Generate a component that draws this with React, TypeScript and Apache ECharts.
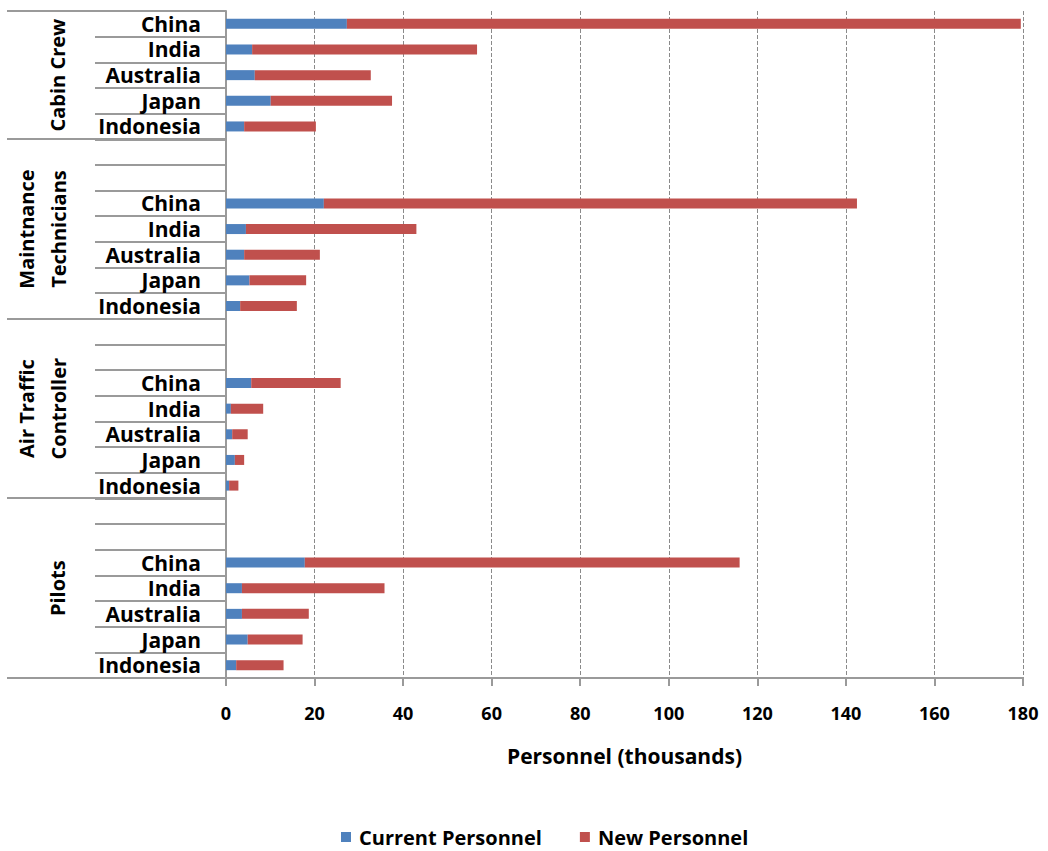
import React, { useEffect, useRef } from "react";
import * as echarts from "echarts";

// ---- data ----
const groupNames = ["Cabin Crew", "Maintnance\nTechnicians", "Air Traffic\nController", "Pilots"];
const countries = ["China", "India", "Australia", "Japan", "Indonesia"];
const seriesNames = ["Current Personnel", "New Personnel"];
const axisTitle = "Personnel (thousands)";
const xMin = 0;
const xMax = 180;
const xInterval = 20;
const blankRowsBetweenGroups = 2;

const cabinCurrent = [27.3, 5.9, 6.5, 10.1, 4.1];
const cabinNew = [152.2, 50.8, 26.2, 27.4, 16.2];
const maintCurrent = [22.1, 4.5, 4.1, 5.3, 3.2];
const maintNew = [120.4, 38.5, 17.1, 12.8, 12.8];
const atcCurrent = [5.7, 1.1, 1.4, 2.0, 0.7];
const atcNew = [20.2, 7.3, 3.5, 2.1, 2.1];
const pilotsCurrent = [17.8, 3.6, 3.6, 4.9, 2.3];
const pilotsNew = [98.2, 32.2, 15.1, 12.4, 10.7];

const currentByGroup = [cabinCurrent, maintCurrent, atcCurrent, pilotsCurrent];
const newByGroup = [cabinNew, maintNew, atcNew, pilotsNew];

const FONT = "'Open Sans', 'DejaVu Sans', sans-serif";
const BLUE = "#4F81BD";
const RED = "#C0504D";
const LINE = "#9a9a9a";

function buildRows() {
  const categories: string[] = [];
  const current: (number | null)[] = [];
  const added: (number | null)[] = [];
  const groupStarts: number[] = [];
  groupNames.forEach((_g, gi) => {
    groupStarts.push(categories.length);
    if (gi > 0) {
      for (let k = 0; k < blankRowsBetweenGroups; k++) {
        categories.push("");
        current.push(null);
        added.push(null);
      }
    }
    countries.forEach((c, ci) => {
      categories.push(c);
      current.push(currentByGroup[gi][ci]);
      added.push(newByGroup[gi][ci]);
    });
  });
  groupStarts.push(categories.length);
  return { categories, current, added, groupStarts };
}

export default function App() {
  const ref = useRef<HTMLDivElement>(null);
  useEffect(() => {
    if (!ref.current) return;
    const chart = echarts.init(ref.current, undefined, { renderer: "svg" });
    const { categories, current, added, groupStarts } = buildRows();
    chart.setOption({
      animation: false,
      textStyle: { fontFamily: FONT },
      grid: { left: 226, right: 25, top: 11, bottom: 173, containLabel: false },
      legend: {
        left: 336,
        top: 822,
        itemWidth: 10,
        itemHeight: 10,
        itemGap: 38,
        icon: "rect",
        textStyle: { fontFamily: FONT, fontSize: 20, fontWeight: "bold", color: "#000", padding: [0, 0, 0, 3], lineHeight: 20 },
        data: seriesNames,
      },
      xAxis: {
        type: "value",
        min: xMin,
        max: xMax,
        interval: xInterval,
        name: axisTitle,
        nameLocation: "middle",
        nameGap: 67,
        nameTextStyle: { fontFamily: FONT, fontSize: 21, fontWeight: "bold", color: "#000" },
        axisLine: { show: true, lineStyle: { color: LINE, width: 2 } },
        axisTick: { show: true, length: 8, lineStyle: { color: LINE, width: 2 } },
        axisLabel: { fontFamily: FONT, fontSize: 18, fontWeight: "bold", color: "#000", margin: 26 },
        splitLine: { show: true, lineStyle: { color: "#8a8a8a", type: [4, 2], width: 1 } },
      },
      yAxis: {
        type: "category",
        inverse: true,
        data: categories,
        axisLine: { show: true, lineStyle: { color: LINE, width: 2 } },
        axisTick: { show: true, interval: 0, length: 131, lineStyle: { color: LINE, width: 2 } },
        axisLabel: { interval: 0, fontFamily: FONT, fontSize: 21, fontWeight: "bold", color: "#000", margin: 25 },
        splitLine: { show: false },
      },
      series: [
        { name: seriesNames[0], type: "bar", stack: "total", barWidth: 10, itemStyle: { color: BLUE }, data: current },
        { name: seriesNames[1], type: "bar", stack: "total", barWidth: 10, itemStyle: { color: RED }, data: added },
      ],
    });

    const c0 = chart.convertToPixel({ yAxisIndex: 0 }, 0) as number;
    const c1 = chart.convertToPixel({ yAxisIndex: 0 }, 1) as number;
    const band = c1 - c0;
    const boundary = (i: number) => c0 + (i - 0.5) * band;
    const xAxisPx = chart.convertToPixel({ xAxisIndex: 0 }, xMin) as number;

    const elements: any[] = [];
    groupStarts.forEach((s) => {
      const y = Math.round(boundary(s));
      elements.push({
        type: "line",
        shape: { x1: 7, y1: y, x2: xAxisPx, y2: y },
        style: { stroke: LINE, lineWidth: 2 },
        z: 10,
      });
    });
    groupNames.forEach((g, gi) => {
      const yMid = (boundary(groupStarts[gi]) + boundary(groupStarts[gi + 1])) / 2;
      const twoLines = g.indexOf("\n") >= 0;
      elements.push({
        type: "text",
        x: twoLines ? 42 : 57,
        y: yMid,
        rotation: Math.PI / 2,
        style: {
          text: g,
          fill: "#000",
          fontFamily: FONT,
          fontSize: 20,
          fontWeight: "bold",
          textAlign: "center",
          textVerticalAlign: "middle",
          lineHeight: 32,
        },
        z: 10,
      });
    });
    chart.setOption({ graphic: { elements } });

    return () => chart.dispose();
  }, []);
  return (
    <div
      ref={ref}
      style={{ position: "fixed", left: 0, top: 0, width: 1048, height: 851, background: "#fff" }}
    />
  );
}
